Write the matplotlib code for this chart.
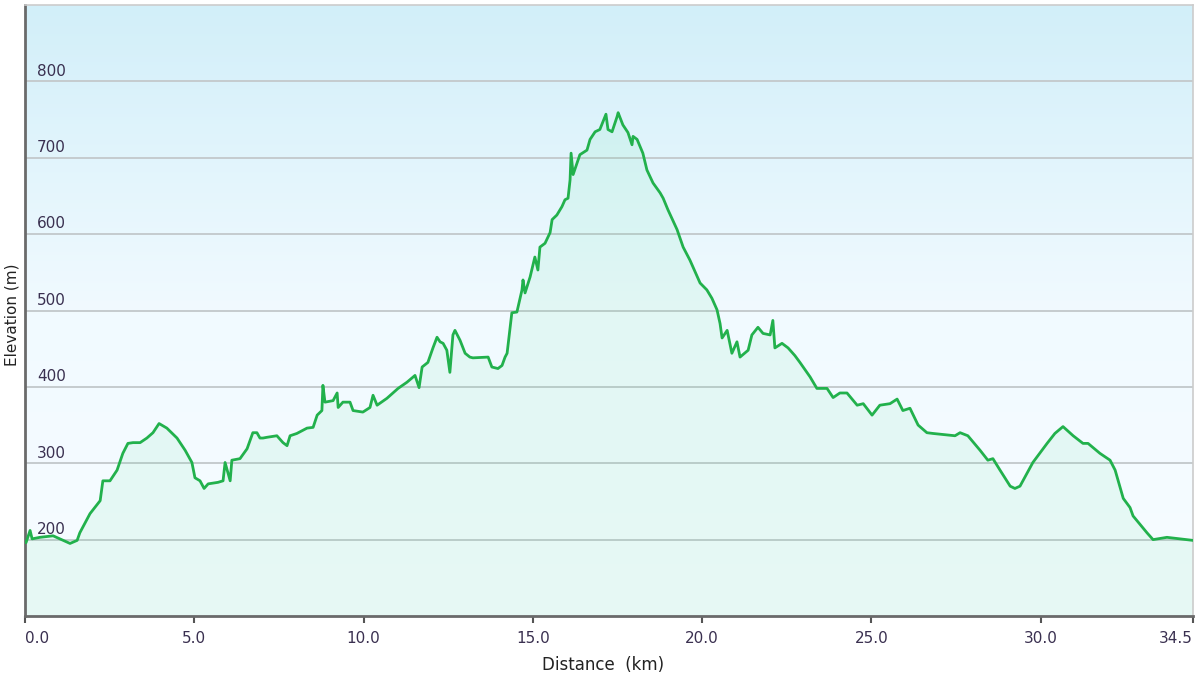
import matplotlib
matplotlib.use("Agg")
import matplotlib.pyplot as plt
import numpy as np
from matplotlib.colors import LinearSegmentedColormap
import matplotlib.transforms as mtransforms

distance_km = [0, 0.03, 0.15, 0.21, 0.44, 0.83, 1.03, 1.33, 1.54, 1.62, 1.92, 2.22, 2.30, 2.51, 2.72,
               2.89, 3.04, 3.19, 3.40, 3.60, 3.78, 3.96, 4.19, 4.49, 4.73, 4.93, 5.02, 5.17, 5.29, 5.41,
               5.70, 5.85, 5.91, 6.06, 6.11, 6.35, 6.56, 6.73, 6.85, 6.94, 7.03, 7.15, 7.44, 7.62, 7.74,
               7.83, 8.03, 8.33, 8.51, 8.63, 8.77, 8.80, 8.86, 9.10, 9.22, 9.25, 9.39, 9.60, 9.69, 9.98,
               10.19, 10.28, 10.40, 10.69, 10.87, 11.02, 11.28, 11.52, 11.64, 11.73, 11.90, 12.05, 12.17,
               12.26, 12.35, 12.46, 12.55, 12.64, 12.70, 12.85, 13.00, 13.14, 13.23, 13.68, 13.79, 13.97,
               14.09, 14.18, 14.24, 14.38, 14.53, 14.68, 14.71, 14.77, 14.92, 15.06, 15.15, 15.21, 15.36,
               15.51, 15.57, 15.71, 15.86, 15.95, 16.04, 16.10, 16.13, 16.19, 16.39, 16.60, 16.69, 16.84,
               16.98, 17.16, 17.22, 17.34, 17.49, 17.52, 17.66, 17.81, 17.93, 17.96, 18.08, 18.25, 18.37,
               18.55, 18.76, 18.85, 18.99, 19.26, 19.44, 19.64, 19.94, 20.14, 20.29, 20.44, 20.53, 20.59,
               20.74, 20.88, 21.03, 21.12, 21.36, 21.47, 21.65, 21.80, 22.01, 22.09, 22.15, 22.36, 22.54,
               22.74, 22.89, 23.19, 23.39, 23.69, 23.87, 24.07, 24.28, 24.58, 24.76, 25.02, 25.25, 25.55,
               25.76, 25.93, 26.14, 26.38, 26.64, 26.82, 27.47, 27.62, 27.85, 28.21, 28.44, 28.59, 28.80,
               29.10, 29.24, 29.39, 29.77, 30.19, 30.42, 30.66, 30.96, 31.25, 31.40, 31.75, 32.05, 32.20,
               32.44, 32.64, 32.73, 33.14, 33.32, 33.73, 34.5]
elevation_m = [197, 196, 212, 201, 203, 205, 201, 195, 199, 209, 234, 251, 277, 277, 291,
               313, 326, 327, 327, 333, 340, 352, 346, 333, 317, 301, 281, 277, 267, 273,
               275, 277, 301, 277, 304, 306, 319, 340, 340, 333, 333, 334, 336, 327, 323,
               336, 339, 346, 347, 363, 369, 402, 380, 382, 392, 373, 380, 380, 369, 367,
               373, 389, 376, 385, 392, 398, 406, 415, 399, 426, 432, 451, 465,
               459, 457, 448, 419, 468, 474, 461, 444, 439, 438, 439, 426, 424,
               428, 439, 444, 497, 498, 527, 540, 523, 544, 570, 553, 583, 588,
               602, 619, 625, 636, 645, 647, 671, 706, 678, 704, 710, 724, 734,
               737, 757, 737, 734, 754, 759, 743, 733, 717, 728, 724, 706, 684,
               667, 654, 647, 632, 606, 583, 566, 536, 527, 516, 501, 483, 464,
               474, 444, 459, 439, 448, 468, 478, 470, 468, 487, 451, 457, 451,
               441, 432, 413, 398, 398, 386, 392, 392, 376, 378, 363, 376, 378,
               384, 369, 372, 350, 340, 339, 336, 340, 336, 317, 304, 306, 291,
               270, 267, 270, 301, 326, 339, 348, 336, 326, 326, 313, 304, 291,
               254, 242, 231, 209, 200, 203, 199]

y_ticks = [200, 300, 400, 500, 600, 700, 800]
x_ticks = [0.0, 5.0, 10.0, 15.0, 20.0, 25.0, 30.0, 34.5]
x_tick_labels = ["0.0", "5.0", "10.0", "15.0", "20.0", "25.0", "30.0", "34.5"]

fig = plt.figure(figsize=(12, 6.75), dpi=100)
fig.patch.set_facecolor("white")
ax = fig.add_axes([25 / 1200, 59 / 675, 1168 / 1200, 611 / 675])

xmin, xmax, ymin, ymax = 0, 34.5, 100, 900
ax.set_xlim(xmin, xmax)
ax.set_ylim(ymin, ymax)

# background gradient (light blue top -> near white bottom)
bg = LinearSegmentedColormap.from_list("bg", ["#f7fcff", "#f1faff", "#d2eff9"])
grad = np.linspace(0, 1, 256).reshape(-1, 1)
ax.imshow(grad, cmap=bg, aspect="auto", extent=[xmin, xmax, ymin, ymax],
          origin="lower", zorder=0, interpolation="bicubic")

# grid lines
for v in y_ticks:
    ax.axhline(v, color="#c5cbce", lw=1.4, zorder=1)

x = np.array(distance_km)
y = np.array(elevation_m)
ax.fill_between(x, y, ymin, color="#45e08a", alpha=0.085, lw=0, zorder=2)
ax.plot(x, y, color="#22b14c", lw=2.0, zorder=3, solid_joinstyle="round")

# y tick labels inside the axes
ax.set_yticks(y_ticks)
ax.tick_params(axis="y", left=False, labelleft=False)
trans = mtransforms.blended_transform_factory(ax.transAxes, ax.transData)
for v in y_ticks:
    ax.text(12 / 1168, v + 3.5, str(v), transform=trans, ha="left", va="bottom",
            fontsize=11, color="#3a3050", zorder=4)

ax.set_xticks(x_ticks)
ax.set_xticklabels(x_tick_labels, fontsize=11, color="#3a3050")
labels = ax.get_xticklabels()
labels[0].set_ha("left")
labels[-1].set_ha("right")
ax.tick_params(axis="x", direction="out", length=5, width=1.5, color="#555555", pad=6)

for s in ["left", "bottom"]:
    ax.spines[s].set_color("#6a6a6a")
    ax.spines[s].set_linewidth(2)
for s in ["top", "right"]:
    ax.spines[s].set_color("#cccccc")
    ax.spines[s].set_linewidth(1.2)

fig.text(603 / 1200, 1 - 665 / 675, "Distance  (km)", ha="center", va="center",
         fontsize=12, color="#222222")
fig.text(12 / 1200, 1 - 315 / 675, "Elevation (m)", ha="center", va="center",
         rotation=90, fontsize=11, color="#222222")

fig.savefig("out.png", dpi=100)
